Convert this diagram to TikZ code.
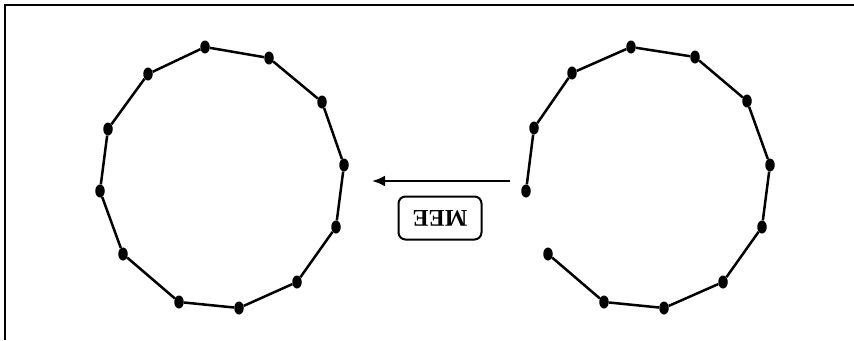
\documentclass[tikz,border=0pt]{standalone}
\usepackage{fontspec}
\newfontfamily\labfont{Liberation Serif}
\usetikzlibrary{shapes.geometric,arrows.meta}
\begin{document}
\begin{tikzpicture}[x=1pt,y=-1pt,
  dot/.style={ellipse,fill=black,inner sep=0pt,minimum width=9.5pt,minimum height=13pt},
  seg/.style={line width=2.5pt},
  frame/.style={line width=1.8pt},
  label/.style={draw,line width=2pt,rounded corners=7pt,minimum width=83pt,minimum height=43pt,inner sep=0pt}]
\useasboundingbox (0,0) rectangle (854,340);
\coordinate (fa) at (5,340);
\coordinate (fb) at (5,5);
\coordinate (fc) at (854,5);
\draw[frame] (fa) -- (fb) -- (fc);
% left closed polygon
\foreach \n/\x/\y in {1/205/47,2/269/58,3/322/102,4/344/165,5/336/227,6/297/282,7/239/308,8/179/302,9/123/254,10/100/191,11/108/129,12/148/74}
  \node[dot] (l\n) at (\x,\y) {};
\foreach \a/\b in {1/2,2/3,3/4,4/5,5/6,6/7,7/8,8/9,9/10,10/11,11/12,12/1}
  \draw[seg] (l\a) -- (l\b);
% right open polygon
\foreach \n/\x/\y in {1/631/47,2/695/57,3/747/101,4/770/165,5/762/227,6/723/282,7/664/308,8/604/302,9/548/254,10/526/191,11/534/128,12/572/73}
  \node[dot] (r\n) at (\x,\y) {};
\foreach \a/\b in {1/2,2/3,3/4,4/5,5/6,6/7,7/8,8/9,10/11,11/12,12/1}
  \draw[seg] (r\a) -- (r\b);
% arrow
\coordinate (as) at (510,181);
\coordinate (ae) at (372,181);
\draw[line width=2.5pt,-{Latex[length=13pt,width=11pt]}] (as) -- (ae);
\node[label] (lab) at (440,218) {\rotatebox{180}{\labfont\fontsize{24}{24}\selectfont\bfseries MEE}};
\end{tikzpicture}
\end{document}
